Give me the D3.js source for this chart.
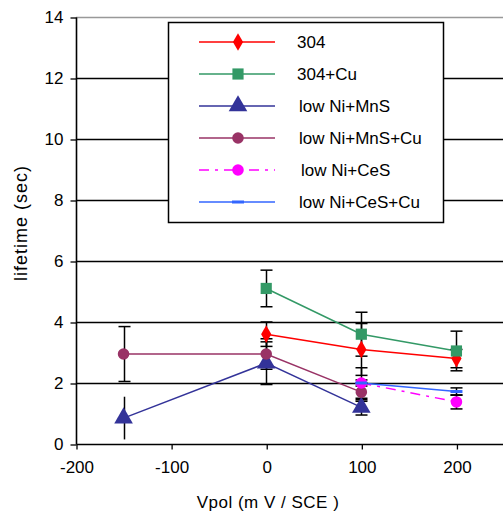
<!DOCTYPE html>
<html>
<head>
<meta charset="utf-8">
<script src="https://cdn.jsdelivr.net/npm/d3@7"></script>
<style>
  body{margin:0;background:#fff;}
  text{font-family:"Liberation Sans",Arial,sans-serif;fill:#000;}
</style>
</head>
<body>
<div id="chart"></div>
<script>
// data
var seriesNames = ["304","304+Cu","low Ni+MnS","low Ni+MnS+Cu","low Ni+CeS","low Ni+CeS+Cu"];
var x304 = [0,100,200],        y304 = [3.6,3.1,2.8],      e304 = [0.4,0.85,0.3];
var x304Cu = [0,100,200],      y304Cu = [5.1,3.6,3.05],   e304Cu = [0.6,0.72,0.65];
var xMnS = [-150,0,100],       yMnS = [0.85,2.65,1.2],    eMnS = [0.7,0.7,0.25];
var xMnSCu = [-150,0,100],     yMnSCu = [2.95,2.95,1.7],  eMnSCu = [0.9,0.5,0.3];
var xCeS = [100,200],          yCeS = [2.0,1.38],         eCeS = [0.5,0.23];
var xCeSCu = [100,200],        yCeSCu = [2.0,1.72],       eCeSCu = [0.1,0.12];
var xTicks = [-200,-100,0,100,200];
var yTicks = [0,2,4,6,8,10,12,14];

var colors = ["#ff0000","#339966","#333399","#993366","#ff00ff","#3366ff"];
var symbols = ["diamond","square","triangle","circle","circle","dash"];
var dashes = [null,null,null,null,"10,6,3,6",null];

var xs = [x304,x304Cu,xMnS,xMnSCu,xCeS,xCeSCu];
var ys = [y304,y304Cu,yMnS,yMnSCu,yCeS,yCeSCu];
var es = [e304,e304Cu,eMnS,eMnSCu,eCeS,eCeSCu];
var series = seriesNames.map(function(n,i){
  return {name:n,color:colors[i],symbol:symbols[i],dash:dashes[i],
    points:xs[i].map(function(x,j){return {x:x,y:ys[i][j],e:es[i][j]};})};
});

var W = 503, H = 518;
var svg = d3.select("#chart").append("svg").attr("width",W).attr("height",H);
var x = d3.scaleLinear().domain([-200,250]).range([76,504]);
var y = d3.scaleLinear().domain([0,14]).range([444,17]);

// gridlines
svg.append("g").selectAll("line").data(yTicks.filter(function(t){return t>0;}))
  .enter().append("line")
  .attr("x1",76).attr("x2",W).attr("y1",function(d){return y(d)+0.5;}).attr("y2",function(d){return y(d)+0.5;})
  .style("stroke",function(d){return d===14?"#999":"#000";}).style("stroke-width",1.3);

// axes
var fmt = function(d){return String(d);};
var yAxis = svg.append("g").attr("transform","translate(76.5,0.5)")
  .call(d3.axisLeft(y).tickValues(yTicks).tickFormat(fmt).tickSize(6).tickPadding(7));
var xAxis = svg.append("g").attr("transform","translate(0.5,444.5)")
  .call(d3.axisBottom(x).tickValues(xTicks).tickFormat(fmt).tickSize(5).tickPadding(11));
[yAxis,xAxis].forEach(function(a){
  a.select(".domain").style("stroke","#000").style("stroke-width",1.6);
  a.selectAll(".tick line").style("stroke","#000").style("stroke-width",1.3);
  a.selectAll("text").style("font-size","17px").style("fill","#000")
    .style("font-family","'Liberation Sans',Arial,sans-serif");
});
xAxis.select(".domain").attr("d","M76,0H"+W);
yAxis.select(".domain").attr("d","M0,"+y(14)+"V"+y(0));

svg.append("text").attr("transform","translate(27,223) rotate(-90)")
  .attr("text-anchor","middle").style("font-size","18px").style("letter-spacing","1px").text("lifetime (sec)");
svg.append("text").attr("x",268).attr("y",508)
  .attr("text-anchor","middle").style("font-size","17px").style("letter-spacing","0.5px").text("Vpol (m V / SCE )");

function drawSymbol(g,s){
  if(s.symbol==="dash"){
    g.append("rect").attr("x",-6).attr("y",-1.5).attr("width",12).attr("height",3).style("fill",s.color);
    return;
  }
  var type = {diamond:d3.symbolDiamond,square:d3.symbolSquare,triangle:d3.symbolTriangle,circle:d3.symbolCircle}[s.symbol];
  var sz = {diamond:90,square:125,triangle:150,circle:105}[s.symbol];
  g.append("path").attr("d",d3.symbol().type(type).size(sz)()).style("fill",s.color);
}

// lines
var line = d3.line().x(function(d){return x(d.x);}).y(function(d){return y(d.y);});
series.forEach(function(s){
  svg.append("path").datum(s.points).attr("d",line)
    .style("fill","none").style("stroke",s.color).style("stroke-width",1.5)
    .style("stroke-dasharray",s.dash);
});
// error bars
series.forEach(function(s,si){
  var g = svg.append("g");
  s.points.forEach(function(p,pi){
    var cx = Math.round(x(p.x))+0.5;
    g.append("line").attr("x1",cx).attr("x2",cx).attr("y1",y(p.y+p.e)).attr("y2",y(p.y-p.e))
      .style("stroke","#000").style("stroke-width",1.5);
    if(si===2 && pi===0) return; // this bar shows no caps in the original
    [p.y+p.e,p.y-p.e].forEach(function(v){
      g.append("line").attr("x1",cx-6).attr("x2",cx+6).attr("y1",y(v)).attr("y2",y(v))
        .style("stroke","#000").style("stroke-width",1.5);
    });
  });
});
// markers
series.forEach(function(s){
  s.points.forEach(function(p){
    var g = svg.append("g").attr("transform","translate("+x(p.x)+","+y(p.y)+")");
    drawSymbol(g,s);
  });
});

// legend
var lg = svg.append("g");
lg.append("rect").attr("x",168.5).attr("y",22.5).attr("width",275).attr("height",200)
  .style("fill","#fff").style("stroke","#000").style("stroke-width",1.5);
series.forEach(function(s,i){
  var ry = 42 + i*32;
  lg.append("line").attr("x1",199).attr("x2",275).attr("y1",ry).attr("y2",ry)
    .style("stroke",s.color).style("stroke-width",1.5).style("stroke-dasharray",s.dash);
  var g = lg.append("g").attr("transform","translate(238,"+ry+")");
  drawSymbol(g,s);
  lg.append("text").attr("x",i===4?301:(i<2?297:299)).attr("y",ry+6)
    .style("font-size","17px").text(s.name);
});
</script>
</body>
</html>
